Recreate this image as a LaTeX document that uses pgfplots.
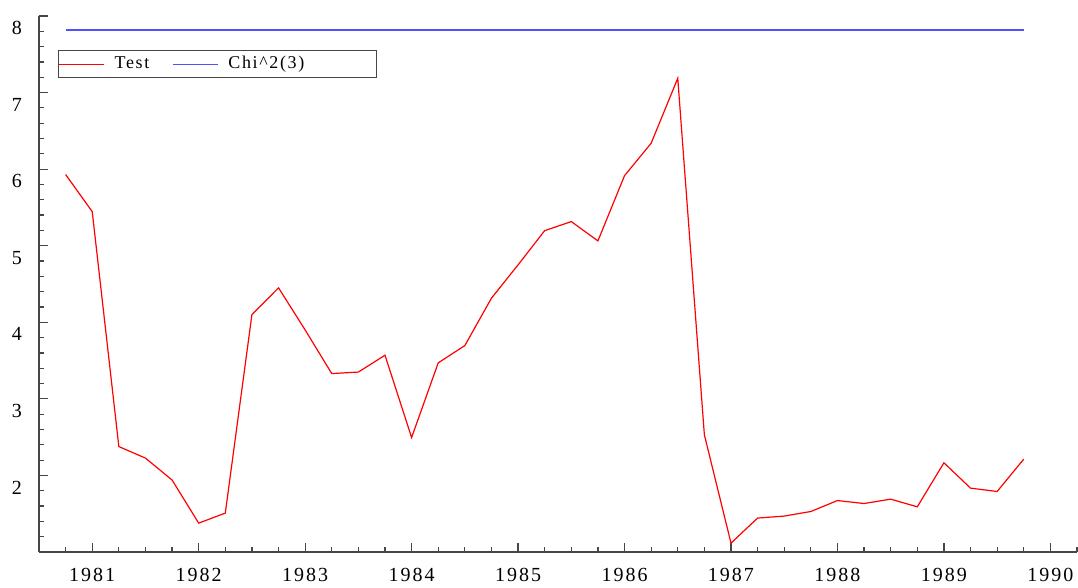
\documentclass[border=0pt]{standalone}
\usepackage{fontspec}
\setmainfont{Liberation Serif}
\usepackage{pgfplots}
\pgfplotsset{compat=1.18}
\newfontfamily\tickfont[LetterSpace=10]{Liberation Serif}
\newfontfamily\legfont[LetterSpace=9]{Liberation Serif}
\definecolor{chiblue}{RGB}{80,80,255}
\definecolor{axgray}{RGB}{70,70,70}
\begin{document}
\begin{tikzpicture}
\useasboundingbox (-19.5pt,-18pt) rectangle (519.5pt,276pt);
\begin{axis}[
 at={(0,0)}, anchor=south west,
 scale only axis, width=519pt, height=268pt,
 xmin=1980.5, xmax=1990.25, ymin=1, ymax=8,
 axis lines*=left,
 axis line style={axgray, line width=0.7pt},
 tick style={axgray, line width=0.6pt},
 tick align=inside,
 major tick length=4.5pt, minor tick length=2.5pt,
 xtick={1981,1982,1983,1984,1985,1986,1987,1988,1989,1990},
 xticklabels={1981,1982,1983,1984,1985,1986,1987,1988,1989,1990},
 minor xtick={1980.5,1980.75,...,1990.25},
 ytick={1,2,3,4,5,6,7,8},
 yticklabels={,2,3,4,5,6,7,8},
 minor ytick={1.2,1.4,...,7.9},
 ticklabel style={font=\tickfont\fontsize{10pt}{12pt}\selectfont},
 xticklabel style={yshift=-4.5pt},
 yticklabel style={xshift=-5pt, yshift=-6pt},
 legend columns=2,
 legend style={at={(0.0183,0.9366)}, anchor=north west, draw=axgray, line width=0.5pt,
   font=\legfont\fontsize{9pt}{11pt}\selectfont, inner xsep=0pt, inner ysep=1pt,
   /tikz/every odd column/.append style={column sep=3pt},
   /tikz/every even column/.append style={column sep=9.5pt}},
 legend image code/.code={\draw[#1, line width=0.6pt] (0pt,0pt) -- (22.5pt,0pt);},
]
\addplot[red, line width=0.6pt] table {
x y
1980.75 5.93
1981.00 5.445
1981.25 2.377
1981.50 2.226
1981.75 1.94
1982.00 1.377
1982.25 1.508
1982.50 4.10
1982.75 4.45
1983.00 3.90
1983.25 3.33
1983.50 3.35
1983.75 3.57
1984.00 2.495
1984.25 3.47
1984.50 3.696
1984.75 4.315
1985.00 4.75
1985.25 5.197
1985.50 5.315
1985.75 5.063
1986.00 5.915
1986.25 6.338
1986.50 7.187
1986.75 2.53
1987.00 1.116
1987.25 1.443
1987.50 1.469
1987.75 1.529
1988.00 1.672
1988.25 1.633
1988.50 1.69
1988.75 1.59
1989.00 2.165
1989.25 1.834
1989.50 1.79
1989.75 2.213
};
\addlegendentry{Test}
\addplot[chiblue, line width=0.7pt] coordinates {(1980.75,7.815) (1989.75,7.815)};
\addlegendentry{Chi\textasciicircum 2(3)\hspace*{34pt}}
\end{axis}
\end{tikzpicture}
\end{document}
